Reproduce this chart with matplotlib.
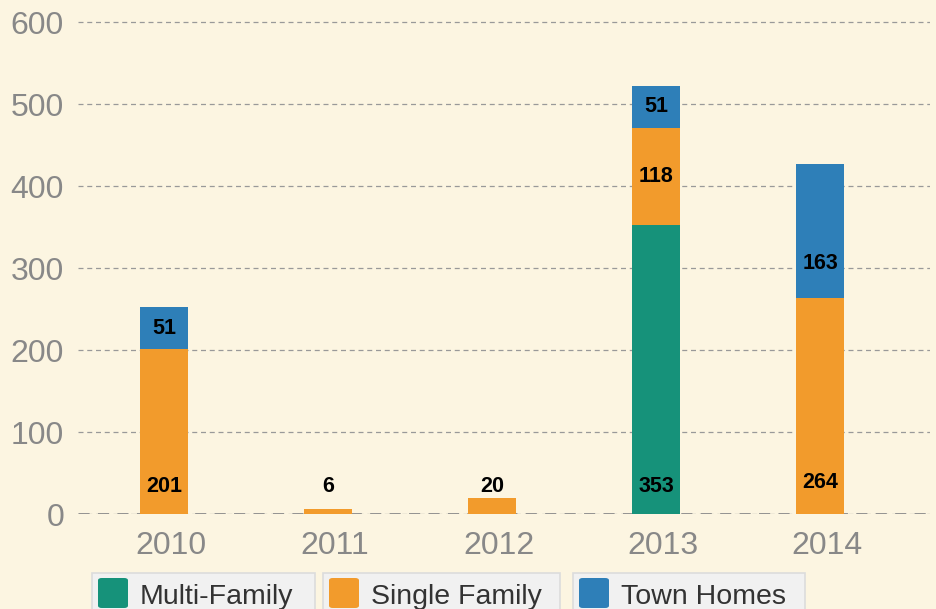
import numpy as np
import matplotlib.pyplot as plt
import matplotlib.transforms as mtransforms
from matplotlib.patches import Rectangle, FancyBboxPatch

plt.rcParams['font.family'] = ['Liberation Sans', 'DejaVu Sans']

years = ["2010", "2011", "2012", "2013", "2014"]
multi_family = [0, 0, 0, 353, 0]
single_family = [201, 6, 20, 118, 264]
town_homes = [51, 0, 0, 51, 163]

series_names = ["Multi-Family", "Single Family", "Town Homes"]
colors = ["#16927a", "#f29b2c", "#2e7fb8"]

W, H = 936, 609
bg = "#fcf5e1"
fig = plt.figure(figsize=(W / 100, H / 100), dpi=100, facecolor=bg)
ax = fig.add_axes([78 / W, 95 / H, (930 - 78) / W, 514 / H])
ax.set_facecolor(bg)

x = np.arange(len(years))
width = 0.29
mf = np.array(multi_family)
sf = np.array(single_family)
th = np.array(town_homes)

ax.bar(x, mf, width, color=colors[0], zorder=3)
ax.bar(x, sf, width, bottom=mf, color=colors[1], zorder=3)
ax.bar(x, th, width, bottom=mf + sf, color=colors[2], zorder=3)

# value labels: bottom segment label sits low in the bar, upper ones centred
lab_kw = dict(ha="center", va="center", fontsize=15.5, fontweight="bold", color="black", zorder=4)
for i in range(len(years)):
    stack = [(mf[i], 0), (sf[i], mf[i]), (th[i], mf[i] + sf[i])]
    first = True
    for val, base in stack:
        if val == 0:
            continue
        if first:
            y = 39 if i == 4 else 34
            first = False
        else:
            y = 306 if i == 4 else base + val / 2
        ax.text(x[i], y, str(val), **lab_kw)

ax.set_xlim(-0.524, 4.67)
ax.set_ylim(0, 600 * 514 / 492)
ax.set_yticks([0, 100, 200, 300, 400, 500, 600])
ax.set_xticks(x)
ax.set_xticklabels(years)
ax.tick_params(axis="both", length=0, labelsize=23, colors="#888888")
ax.tick_params(axis="y", pad=10)
ax.tick_params(axis="x", pad=12)
# year labels sit a few pixels right of the bar centres
shift = mtransforms.ScaledTranslation(7 / 100, 0, fig.dpi_scale_trans)
for lbl in ax.get_xticklabels():
    lbl.set_transform(lbl.get_transform() + shift)
for s in ax.spines.values():
    s.set_visible(False)

ax.yaxis.grid(True, linestyle=(0, (4, 3)), color="#999999", linewidth=0.9, zorder=1)
ax.axhline(0, linestyle=(0, (4, 3)), color="#8a8a8a", linewidth=2, zorder=2)
ax.set_axisbelow(True)

# one boxed legend entry per series (box left, box right in px)
legend_boxes = [(92, 315), (323, 560), (573, 805)]
for name, col, (l, r) in zip(series_names, colors, legend_boxes):
    fig.patches.append(Rectangle((l / W, -0.02), (r - l) / W, (H - 573) / H + 0.02,
                                 transform=fig.transFigure, facecolor="#f1f1f1",
                                 edgecolor="#dcdcdc", linewidth=1.2))
    fig.patches.append(FancyBboxPatch(((l + 6) / W, 1 / H), 30 / W, (608 - 578) / H,
                                      boxstyle="round,pad=0,rounding_size=0.004",
                                      transform=fig.transFigure, facecolor=col,
                                      edgecolor="none"))
    fig.text((l + 48) / W, (H - 604) / H, name, fontsize=20.5, color="#333333",
             ha="left", va="baseline")

fig.savefig("out.png", dpi=100, facecolor=bg)
